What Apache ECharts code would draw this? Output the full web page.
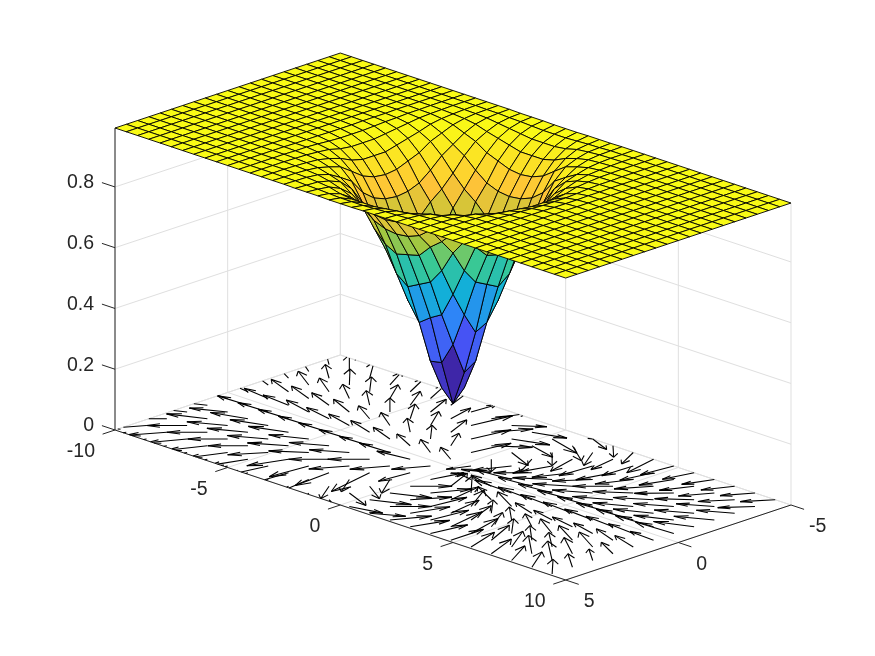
<!DOCTYPE html>
<html>
<head>
<meta charset="utf-8">
<script src="https://cdn.jsdelivr.net/npm/echarts@6/dist/echarts.min.js"></script>
<style>
html,body{margin:0;padding:0;background:#fff;}
#chart{width:875px;height:656px;}
</style>
</head>
<body>
<div id="chart"></div>
<script>
var xTicks = [-10, -5, 0, 5, 10];
var yTicks = [-5, 0, 5];
var zTicks = [0, 0.2, 0.4, 0.6, 0.8];
var zTickLabels = ['0', '0.2', '0.4', '0.6', '0.8'];
var zTop = 0.994;

var surfX = [-10,-9.5,-9,-8.5,-8,-7.5,-7,-6.5,-6,-5.5,-5,-4.5,-4,-3.5,-3,-2.5,-2,-1.5,-1,-0.5,0,0.5,1,1.5,2,2.5,3,3.5,4,4.5,5,5.5,6,6.5,7,7.5,8,8.5,9,9.5,10];
var surfY = [-5,-4.5,-4,-3.5,-3,-2.5,-2,-1.5,-1,-0.5,0,0.5,1,1.5,2,2.5,3,3.5,4,4.5,5];
// surface height in thousandths, one row per surfY
var surfZ = [
[994,994,994,994,994,994,994,994,994,994,994,994,994,994,994,994,993,993,993,992,992,992,993,993,993,994,994,994,994,994,994,994,994,994,994,994,994,994,994,994,994],
[994,994,994,994,994,994,994,994,994,994,994,994,994,994,993,993,991,990,988,986,986,986,988,990,991,993,993,994,994,994,994,994,994,994,994,994,994,994,994,994,994],
[994,994,994,994,994,994,994,994,994,994,994,994,994,993,992,990,985,980,975,970,970,970,975,985,989,992,993,994,994,994,994,994,994,994,994,994,994,994,994,994,994],
[994,994,994,994,994,994,994,994,994,994,994,994,993,991,988,982,970,960,950,940,940,940,950,968,980,988,991,993,994,994,994,994,994,994,994,994,994,994,994,994,994],
[994,994,994,994,994,994,994,994,994,994,994,993,992,988,980,965,950,925,910,895,890,895,910,938,965,977,987,991,993,994,994,994,994,994,994,994,994,994,994,994,994],
[994,994,994,994,994,994,994,994,994,994,994,993,990,982,965,940,915,880,850,835,830,835,850,880,930,955,977,988,992,993,994,994,994,994,994,994,994,994,994,994,994],
[994,994,994,994,994,994,994,994,994,994,993,991,985,970,950,915,870,830,800,760,750,740,760,800,870,930,965,980,989,993,994,994,994,994,994,994,994,994,994,994,994],
[994,994,994,994,994,994,994,994,994,994,993,990,980,960,925,880,830,780,710,660,640,620,650,720,800,880,938,968,985,991,993,994,994,994,994,994,994,994,994,994,994],
[994,994,994,994,994,994,994,994,994,994,993,988,975,950,910,850,800,710,620,540,490,490,550,650,760,850,910,950,975,988,993,994,994,994,994,994,994,994,994,994,994],
[994,994,994,994,994,994,994,994,994,994,992,986,970,940,895,835,760,660,540,350,250,350,490,620,740,835,895,940,970,986,992,994,994,994,994,994,994,994,994,994,994],
[994,994,994,994,994,994,994,994,994,994,992,986,970,940,890,830,750,640,490,250,210,325,470,640,750,830,890,940,970,986,992,994,994,994,994,994,994,994,994,994,994],
[994,994,994,994,994,994,994,994,994,994,992,986,970,940,895,835,740,620,490,350,358,430,540,660,760,835,895,940,970,986,992,994,994,994,994,994,994,994,994,994,994],
[994,994,994,994,994,994,994,994,994,994,993,988,975,950,910,850,760,650,550,490,518,540,620,710,800,850,910,950,975,988,993,994,994,994,994,994,994,994,994,994,994],
[994,994,994,994,994,994,994,994,994,994,993,991,985,968,938,880,800,720,650,620,640,660,710,780,830,880,925,960,980,990,993,994,994,994,994,994,994,994,994,994,994],
[994,994,994,994,994,994,994,994,994,994,993,993,989,980,965,930,870,800,760,740,750,760,800,830,870,915,950,970,985,991,993,994,994,994,994,994,994,994,994,994,994],
[994,994,994,994,994,994,994,994,994,994,994,993,992,988,977,955,930,880,850,835,830,835,850,880,915,940,965,982,990,993,994,994,994,994,994,994,994,994,994,994,994],
[994,994,994,994,994,994,994,994,994,994,994,994,993,991,987,977,965,938,910,895,890,895,910,925,950,965,980,988,992,993,994,994,994,994,994,994,994,994,994,994,994],
[994,994,994,994,994,994,994,994,994,994,994,994,994,993,991,988,980,968,950,940,940,940,950,960,970,982,988,991,993,994,994,994,994,994,994,994,994,994,994,994,994],
[994,994,994,994,994,994,994,994,994,994,994,994,994,994,993,992,989,985,975,970,970,970,975,980,985,990,992,993,994,994,994,994,994,994,994,994,994,994,994,994,994],
[994,994,994,994,994,994,994,994,994,994,994,994,994,994,993,993,991,990,988,986,986,986,988,990,991,993,993,994,994,994,994,994,994,994,994,994,994,994,994,994,994],
[994,994,994,994,994,994,994,994,994,994,994,994,994,994,994,994,993,993,993,992,992,992,993,993,993,994,994,994,994,994,994,994,994,994,994,994,994,994,994,994,994]
];

var arrowX = [-9.6,-8.7,-7.8,-6.9,-6,-5.1,-4.2,-3.3,-2.4,-1.5,-0.6,0.3,1.2,2.1,3,3.9,4.8,5.7,6.6,7.5,8.4,9.3];
var arrowY = [-5,-4.1,-3.2,-2.3,-1.4,-0.5,0.4,1.3,2.2,3.1,4,4.9];
var arrowU = [
[-1.2,-1.2,-1.2,-1.1,-1,-.9,-.7,-.4,0,.5,.9,1.1,1.01,.78,.5,.31,-.15,-.27,-.4,-.5,-.6,-.65],
[-1.2,-1.1,-1,-.6,-.6,-.6,-.5,.09,.5,.87,1.17,1.5,1.2,.67,.2,-.05,-.25,-.4,-.5,-.6,-.7,-.75],
[-1.1,-1,-1.05,-.95,-.74,-.7,-.5,-.27,.27,.71,1.24,1.23,.87,.32,-.1,-.35,-.55,-.7,-.85,-.95,-1.03,-1.05],
[-1.15,-1.15,-1.13,-1.1,-1.05,-.93,-.87,-.75,-.47,.28,1.02,1.24,.61,-.4,-.6,-.8,-.9,-1,-1.05,-1.1,-1.1,-1.15],
[-1.2,-1.21,-1.21,-1.22,-1.2,-1.11,-1.07,-1,-.88,-.65,.28,.83,-.59,-.85,-1,-1.05,-1.1,-1.12,-1.15,-1.18,-1.2,-1.25],
[-1.2,-1.21,-1.25,-1.3,-1.25,-1.22,-1.2,-1.15,-1.08,-1.09,-1.03,-.33,-.89,-1.44,-1.35,-1.35,-1.4,-1.45,-1.5,-1.55,-1.6,-1.61],
[-1.3,-1.3,-1.3,-1.3,-1.3,-1.3,-1.3,-1.3,-1.3,-1.28,-.65,.4,-.73,-1.2,-1.69,-1.6,-1.5,-1.4,-1.35,-1.3,-1.2,-1.11],
[-1.1,-1.11,-1.25,-1.24,-1.28,-1.17,-1.11,-1.07,-.93,-.67,-.14,.3,-.5,-1.11,-1.17,-1.29,-1.07,-1.06,-1.1,-1.13,-1.13,-1.17],
[-1.2,-1.23,-1.15,-1.17,-1.15,-1.1,-1,-.9,-.7,.4,.73,.93,.66,-.24,-.8,-.85,-.92,-1.02,-1.24,-1.28,-1.3,-1.02],
[-.9,-.9,-.9,-.89,-.89,-.75,-.49,-.16,.1,.64,1.05,1.25,.75,.2,-.24,-.5,-.7,-.94,-1.02,-1.05,-1.27,-.85],
[-.7,-.7,-.65,-.6,-.55,-.45,-.3,-.1,.2,.64,1.2,1.25,.93,.45,.2,-.3,-.4,-.6,-.8,-1.3,-1.4,-1],
[-.5,-.5,-.45,-.4,-.3,-.2,-.1,.1,.3,.6,1,1.18,1,.67,.45,.25,0,-.46,-.53,-.68,-.8,-.96]
];
var arrowV = [
[-1.2,-1.2,-1.3,-1.4,-1.4,-1.4,-1.4,-1.4,-1.2,-.9,-.5,-.1,.39,.75,1.02,1.5,1.33,1.14,1.05,1,.95,.9],
[-1,-1.1,-1.2,-1.1,-1.25,-1.3,-1.3,-1.1,-1.3,-.7,-.39,.4,.8,1.07,1.18,1.35,1.25,1.15,1.05,1,.93,.9],
[-.7,-.83,-1.08,-1.03,-1.1,-1.15,-1.2,-1.16,-1.58,-1.15,-.46,.3,.87,1.29,1.4,1.3,1.15,1.05,.9,.8,.67,.65],
[-.6,-.68,-.7,-.8,-.9,-.93,-1.09,-1.12,-1.18,-1.5,-.8,.5,1.13,1.35,1.2,1,.9,.8,.75,.7,.67,.65],
[-.45,-.44,-.44,-.45,-.5,-.62,-.67,-.87,-.95,-1.01,-1.5,.83,1.16,.85,.75,.72,.7,.68,.65,.62,.58,.55],
[-.15,-.14,-.12,-.3,-.25,-.3,-.36,-.41,-.49,-.65,-.58,.77,.44,.15,.15,.15,.15,.12,.12,.1,.1,.09],
[.05,.05,.05,.05,.05,.05,.05,.05,.05,.2,1.08,-.3,-.13,-.3,-.05,-.1,-.1,-.1,-.1,-.1,-.1,-.07],
[.55,.59,.42,.46,.5,.61,.67,.71,.93,1.11,1.27,-1.18,-1.24,-1.16,-.57,-.67,-.33,-.24,-.21,-.28,-.39,-.35],
[.6,.58,.66,.65,.68,.72,.78,.9,1.1,2.1,1.1,-.93,-1.19,-1.5,-1.38,-.93,-.82,-.72,-.72,-.68,-.7,-.5],
[.9,.9,.9,.89,.89,1.05,1.36,1.6,1.6,1,.61,-.6,-1.1,-1.42,-1.5,-1.4,-1.2,-1.03,-.93,-.9,-.9,-.68],
[1.1,1.1,1.15,1.2,1.25,1.3,1.5,1.6,1.6,1.01,.46,-.6,-.93,-1.32,-1.5,-1.7,-1.6,-1.4,-1.3,-1.15,-1.2,-.8],
[1.2,1.2,1.25,1.3,1.35,1.4,1.5,1.6,1.5,1.1,.5,-.3,-.6,-1.18,-1.3,-1.4,-1.45,-1.5,-1.42,-1.27,-1.25,-1]
];

var parula = ['#3E26A8','#4752F4','#2D87F7','#12B1D6','#37C897','#ABC739','#FEC338','#F9FB15'];
var textColor = '#262626';
var gridColor = '#DFDFDF';
var labelFont = '"Liberation Sans", Arial, sans-serif';
var zGain = 40.5;
var xMin = -10, xMax = 10, yMin = -5, yMax = 5;
var zMinData = 0.21;

// view plane: horizontal is x-y, vertical is x+y lifted by z
function view(x, y, z) {
    return [x - y, x + y - zGain * z];
}
function faceColor(z) {
    var t = (z - zMinData) / (zTop - zMinData);
    return echarts.color.lerp(Math.min(1, Math.max(0, t)), parula);
}
// cut a floor segment to the axes box
function clipFloor(x1, y1, x2, y2) {
    var t0 = 0, t1 = 1;
    var dx = x2 - x1, dy = y2 - y1;
    var p = [-dx, dx, -dy, dy];
    var q = [x1 - xMin, xMax - x1, y1 - yMin, yMax - y1];
    for (var i = 0; i < 4; i++) {
        if (p[i] === 0) {
            if (q[i] < 0) return null;
        } else {
            var r = q[i] / p[i];
            if (p[i] < 0) { if (r > t1) return null; if (r > t0) t0 = r; }
            else { if (r < t0) return null; if (r < t1) t1 = r; }
        }
    }
    return [x1 + t0 * dx, y1 + t0 * dy, x1 + t1 * dx, y1 + t1 * dy];
}

var lineData = [];
zTicks.forEach(function (z) {
    lineData.push([xMin, yMax, z, xMin, yMin, z, 0]);
    lineData.push([xMin, yMin, z, xMax, yMin, z, 0]);
});
xTicks.forEach(function (x) {
    lineData.push([x, yMax, 0, x, yMin, 0, 0]);
    lineData.push([x, yMin, 0, x, yMin, zTop, 0]);
});
yTicks.forEach(function (y) {
    lineData.push([xMin, y, 0, xMax, y, 0, 0]);
    lineData.push([xMin, y, 0, xMin, y, zTop, 0]);
});
// box edges and tick marks
lineData.push([xMin, yMax, 0, xMin, yMax, zTop, 1]);
lineData.push([xMin, yMax, 0, xMax, yMax, 0, 1]);
lineData.push([xMax, yMax, 0, xMax, yMin, 0, 1]);
xTicks.forEach(function (x) {
    lineData.push([x, yMax, 0, x, yMax + 0.55, 0, 1]);
});
yTicks.forEach(function (y) {
    lineData.push([xMax, y, 0, xMax + 0.58, y, 0, 1]);
});
zTicks.forEach(function (z) {
    lineData.push([xMin, yMax, z, xMin - 0.58, yMax, z, 1]);
});

var arrowData = [];
arrowY.forEach(function (y, j) {
    arrowX.forEach(function (x, k) {
        arrowData.push([x, y, arrowU[j][k], arrowV[j][k]]);
    });
});

// back to front, low x and y are furthest from the viewer
var faceData = [];
for (var i = 0; i < surfX.length - 1; i++) {
    for (var j = 0; j < surfY.length - 1; j++) {
        faceData.push([i, j]);
    }
}

var labelData = [];
xTicks.forEach(function (x) {
    labelData.push([x, yMax, 0, String(x), 'right', -20, 22]);
});
yTicks.forEach(function (y) {
    labelData.push([xMax, y, 0, String(y), 'left', 18, 22]);
});
zTicks.forEach(function (z, n) {
    labelData.push([xMin, yMax, z, zTickLabels[n], 'right', -21, -4]);
});

function renderLine(params, api) {
    var a = api.coord(view(api.value(0), api.value(1), api.value(2)));
    var b = api.coord(view(api.value(3), api.value(4), api.value(5)));
    var dark = api.value(6) === 1;
    return {
        type: 'line',
        silent: true,
        shape: {x1: a[0], y1: a[1], x2: b[0], y2: b[1]},
        style: {stroke: dark ? textColor : gridColor, lineWidth: 1}
    };
}

function renderArrow(params, api) {
    var x = api.value(0), y = api.value(1), u = api.value(2), v = api.value(3);
    var alpha = 0.33, beta = 0.38;
    var tipX = x + u, tipY = y + v;
    var segs = [
        [x, y, tipX, tipY],
        [tipX - alpha * (u + beta * v), tipY - alpha * (v - beta * u), tipX, tipY],
        [tipX - alpha * (u - beta * v), tipY - alpha * (v + beta * u), tipX, tipY]
    ];
    var children = [];
    segs.forEach(function (s) {
        var c = clipFloor(s[0], s[1], s[2], s[3]);
        if (!c) return;
        var a = api.coord(view(c[0], c[1], 0));
        var b = api.coord(view(c[2], c[3], 0));
        children.push({
            type: 'line',
            silent: true,
            shape: {x1: a[0], y1: a[1], x2: b[0], y2: b[1]},
            style: {stroke: '#000', lineWidth: 1.1}
        });
    });
    return {type: 'group', children: children};
}

function renderFace(params, api) {
    var i = api.value(0), j = api.value(1);
    var corners = [[i, j], [i + 1, j], [i + 1, j + 1], [i, j + 1]];
    var points = corners.map(function (c) {
        return api.coord(view(surfX[c[0]], surfY[c[1]], surfZ[c[1]][c[0]] / 1000));
    });
    return {
        type: 'polygon',
        silent: true,
        shape: {points: points},
        style: {fill: faceColor(surfZ[j][i] / 1000), stroke: '#000', lineWidth: 0.9}
    };
}

function renderLabel(params, api) {
    var p = api.coord(view(api.value(0), api.value(1), api.value(2)));
    return {
        type: 'text',
        silent: true,
        x: p[0] + api.value(5),
        y: p[1] + api.value(6),
        style: {
            text: api.value(3),
            fill: textColor,
            fontSize: 19.5,
            fontFamily: labelFont,
            align: api.value(4),
            verticalAlign: 'middle'
        }
    };
}

let option = {
    animation: false,
    backgroundColor: '#fff',
    grid: {left: 115, top: 53, width: 676, height: 527},
    xAxis: {type: 'value', min: -15, max: 15, show: false},
    yAxis: {type: 'value', min: -55.26, max: 15, inverse: true, show: false},
    tooltip: {show: false},
    series: [
        {
            type: 'custom',
            clip: false,
            renderItem: renderLine,
            encode: {x: 0, y: 1},
            dimensions: ['x1','y1','z1','x2','y2','z2','dark'],
            data: lineData
        },
        {
            type: 'custom',
            clip: false,
            renderItem: renderArrow,
            encode: {x: 0, y: 1},
            dimensions: ['x','y','u','v'],
            data: arrowData
        },
        {
            type: 'custom',
            clip: false,
            renderItem: renderFace,
            encode: {x: 0, y: 1},
            dimensions: ['i','j'],
            data: faceData
        },
        {
            type: 'custom',
            clip: false,
            renderItem: renderLabel,
            encode: {x: 0, y: 1},
            dimensions: [
                {name: 'x'}, {name: 'y'}, {name: 'z'},
                {name: 'text', type: 'ordinal'}, {name: 'align', type: 'ordinal'},
                {name: 'dx'}, {name: 'dy'}
            ],
            data: labelData
        }
    ]
};
let chart = echarts.init(document.getElementById('chart'));
chart.setOption(option, true);
</script>
</body>
</html>
